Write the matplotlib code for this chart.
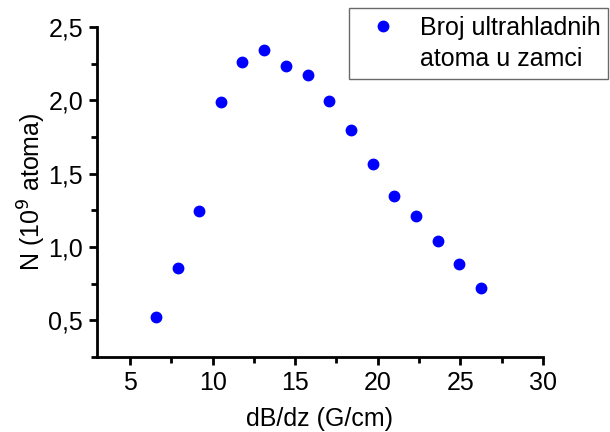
import matplotlib
matplotlib.use("Agg")
import matplotlib.pyplot as plt
from matplotlib.lines import Line2D
from matplotlib.ticker import MultipleLocator, FuncFormatter

# Podaci
gradijent = [6.58, 7.90, 9.19, 10.51, 11.80, 13.12, 14.44, 15.76,
             17.05, 18.37, 19.69, 20.98, 22.30, 23.62, 24.94, 26.23]
broj_atoma = [0.523, 0.855, 1.248, 1.989, 2.263, 2.344, 2.236, 2.175,
              1.995, 1.797, 1.566, 1.349, 1.208, 1.038, 0.886, 0.719]
legenda = ['Broj ultrahladnih', 'atoma u zamci']

plt.rcParams['font.family'] = ['Liberation Sans', 'DejaVu Sans']

fig = plt.figure(figsize=(6.1, 4.32), dpi=100)
ax = fig.add_axes([0.159, 0.174, 0.731, 0.7635])

tacke, = ax.plot(gradijent, broj_atoma, 'o', color='#0000ff', markersize=7.5)

ax.set_xlim(3, 30)
ax.set_ylim(0.25, 2.5)
ax.xaxis.set_major_locator(MultipleLocator(5))
ax.xaxis.set_minor_locator(MultipleLocator(2.5))
ax.yaxis.set_major_locator(MultipleLocator(0.5))
ax.yaxis.set_minor_locator(MultipleLocator(0.25))
ax.yaxis.set_major_formatter(FuncFormatter(lambda v, p: f'{v:.1f}'.replace('.', ',')))

for s in ['top', 'right']:
    ax.spines[s].set_visible(False)
for s in ['left', 'bottom']:
    ax.spines[s].set_linewidth(2)

ax.tick_params(which='major', direction='out', length=6, width=2, labelsize=18, pad=4)
ax.tick_params(which='minor', direction='out', length=4, width=2)

ax.set_xlabel('dB/dz (G/cm)', fontsize=18, labelpad=9)
ax.set_ylabel('N (10$^9$ atoma)', fontsize=18, labelpad=0)

# drugi red legende bez markera
prazno = Line2D([], [], linestyle='none', marker=None)
leg = fig.legend([tacke, prazno], legenda, loc='upper left',
                 bbox_to_anchor=(349 / 610, 1 - 8 / 432), borderaxespad=0,
                 fontsize=18, frameon=True, fancybox=False,
                 handlelength=2.12, handletextpad=0.42,
                 borderpad=0.3, labelspacing=0.3)
leg.get_frame().set_edgecolor('#444444')
leg.get_frame().set_linewidth(1)

plt.savefig('out.png', dpi=100)
